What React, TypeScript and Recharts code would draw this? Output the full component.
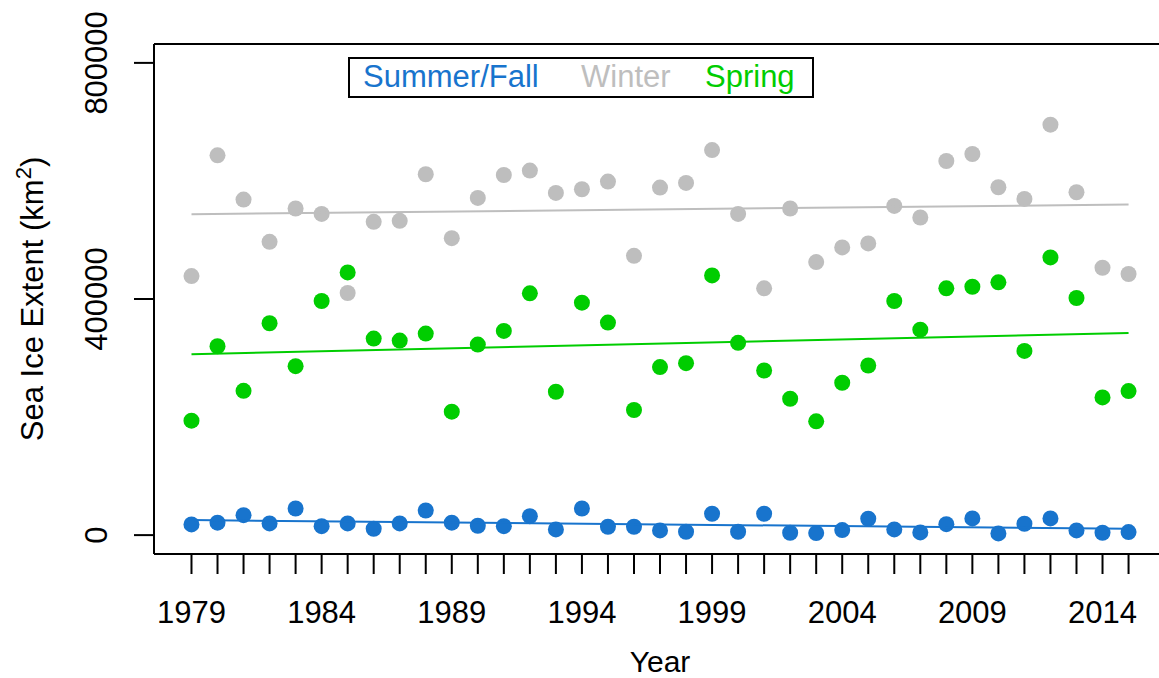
import {
  ReferenceLine,
  Scatter,
  ScatterChart,
  XAxis,
  YAxis,
} from "recharts";

const YEARS = [
  1979, 1980, 1981, 1982, 1983, 1984, 1985, 1986, 1987, 1988, 1989, 1990,
  1991, 1992, 1993, 1994, 1995, 1996, 1997, 1998, 1999, 2000, 2001, 2002,
  2003, 2004, 2005, 2006, 2007, 2008, 2009, 2010, 2011, 2012, 2013, 2014,
  2015,
];
const LABEL_YEARS = [1979, 1984, 1989, 1994, 1999, 2004, 2009, 2014];
const Y_TICKS = [0, 400000, 800000];

const SUMMER_FALL = [
  18100, 21000, 33800, 19800, 45100, 15200, 19800, 10800, 19800, 41700, 21000,
  15900, 15200, 32100, 9600, 45100, 14200, 14200, 7900, 5700, 36200, 5700,
  36200, 4000, 3400, 8500, 27700, 9600, 4600, 18600, 28200, 2900, 19300,
  28200, 7900, 4000, 5100,
];
const WINTER = [
  438900, 643400, 568500, 496900, 553300, 544200, 410200, 530700, 532400,
  611300, 503100, 571200, 610100, 617500, 579700, 585900, 598900, 473200,
  588800, 596600, 652300, 544200, 418100, 553300, 462600, 487400, 494200,
  557700, 538100, 633800, 645600, 589300, 569500, 695300, 580900, 452900,
  442300,
];
const SPRING = [
  193800, 320000, 244500, 358900, 286200, 396600, 445100, 332900, 329600,
  341400, 209100, 322800, 346000, 409600, 242900, 393800, 360000, 211900,
  284600, 291300, 440000, 325700, 278900, 231000, 192700, 258100, 287300,
  396600, 348100, 418100, 420800, 428200, 312100, 470500, 401700, 233200,
  244000,
];

// fitted trend lines, read at the first and last year
const TREND_YEARS = [1979, 2015];
const SUMMER_FALL_TREND = [25400, 10800];
const WINTER_TREND = [543700, 560100];
const SPRING_TREND = [306600, 342600];

const BLUE = "#1874CD";
const GRAY = "#BEBEBE";
const GREEN = "#00CD00";
const FONT = "'Liberation Sans', Arial, sans-serif";

// the original frame is cut off on the right, so the domain stops at the picture edge
const X_DOMAIN = [1977.56, 2016.17];
const Y_DOMAIN = [-32000, 832000];

const toPoints = (xs: number[], ys: number[]) =>
  xs.map((year, i) => ({ year, value: ys[i] }));

const dot = (color: string) => (p: { cx?: number; cy?: number }) => (
  <circle cx={p.cx} cy={p.cy} r={8} fill={color} />
);
const noDot = () => <g />;

function XTick({ x, y, payload }: { x?: number; y?: number; payload?: { value: number } }) {
  const v = payload?.value ?? 0;
  return (
    <text x={x} y={y} dy={47} textAnchor="middle" fontSize={31} fill="#000" fontFamily={FONT}>
      {LABEL_YEARS.includes(v) ? String(v) : ""}
    </text>
  );
}

function YTick({ x, y, payload }: { x?: number; y?: number; payload?: { value: number } }) {
  const tx = (x ?? 0) - 25;
  return (
    <text
      x={tx}
      y={y}
      transform={`rotate(-90, ${tx}, ${y})`}
      textAnchor="middle"
      fontSize={31}
      fill="#000"
      fontFamily={FONT}
    >
      {payload?.value}
    </text>
  );
}

const series = [
  { name: "Summer/Fall", color: BLUE, left: 363 },
  { name: "Winter", color: GRAY, left: 581 },
  { name: "Spring", color: GREEN, left: 705 },
];

export default function App() {
  return (
    <div
      style={{
        position: "fixed",
        left: 0,
        top: 0,
        width: 1159,
        height: 678,
        overflow: "hidden",
        background: "#fff",
        fontFamily: FONT,
      }}
    >
      <ScatterChart
        width={1159}
        height={678}
        margin={{ top: 44, right: 0, bottom: 0, left: 0 }}
      >
        <XAxis
          type="number"
          dataKey="year"
          domain={X_DOMAIN}
          allowDataOverflow
          ticks={YEARS}
          interval={0}
          height={124}
          tickSize={20}
          tickLine={{ stroke: "#000", strokeWidth: 2 }}
          axisLine={{ stroke: "#000", strokeWidth: 2 }}
          tick={<XTick />}
          label={{
            content: () => (
              <text x={660} y={672} textAnchor="middle" fontSize={30} fill="#000" fontFamily={FONT}>
                Year
              </text>
            ),
          }}
        />
        <YAxis
          type="number"
          dataKey="value"
          domain={Y_DOMAIN}
          allowDataOverflow
          ticks={Y_TICKS}
          interval={0}
          width={154}
          tickSize={20}
          tickLine={{ stroke: "#000", strokeWidth: 2 }}
          axisLine={{ stroke: "#000", strokeWidth: 2 }}
          tick={<YTick />}
          label={{
            content: () => (
              <text
                x={43}
                y={299}
                transform="rotate(-90, 43, 299)"
                textAnchor="middle"
                fontSize={31}
                fill="#000"
                fontFamily={FONT}
              >
                Sea Ice Extent (km
                <tspan dy={-12} fontSize={22}>2</tspan>
                <tspan dy={12}>)</tspan>
              </text>
            ),
          }}
        />
        {/* top edge of the plot frame; left and bottom come from the axis lines */}
        <ReferenceLine y={Y_DOMAIN[1]} stroke="#000" strokeWidth={2} />
        <Scatter data={toPoints(YEARS, WINTER)} shape={dot(GRAY)} isAnimationActive={false} />
        <Scatter data={toPoints(YEARS, SPRING)} shape={dot(GREEN)} isAnimationActive={false} />
        <Scatter data={toPoints(YEARS, SUMMER_FALL)} shape={dot(BLUE)} isAnimationActive={false} />
        <Scatter
          data={toPoints(TREND_YEARS, WINTER_TREND)}
          line={{ stroke: GRAY, strokeWidth: 2 }}
          shape={noDot}
          isAnimationActive={false}
        />
        <Scatter
          data={toPoints(TREND_YEARS, SPRING_TREND)}
          line={{ stroke: GREEN, strokeWidth: 2 }}
          shape={noDot}
          isAnimationActive={false}
        />
        <Scatter
          data={toPoints(TREND_YEARS, SUMMER_FALL_TREND)}
          line={{ stroke: BLUE, strokeWidth: 2 }}
          shape={noDot}
          isAnimationActive={false}
        />
      </ScatterChart>

      {/* legend box */}
      <div
        style={{
          position: "absolute",
          left: 348,
          top: 57,
          width: 462,
          height: 37,
          border: "2px solid #000",
        }}
      >
        {series.map((s) => (
          <span
            key={s.name}
            style={{
              position: "absolute",
              left: s.left - 350,
              top: 0,
              fontSize: 31,
              lineHeight: "normal",
              color: s.color,
              whiteSpace: "nowrap",
            }}
          >
            {s.name}
          </span>
        ))}
      </div>
    </div>
  );
}
